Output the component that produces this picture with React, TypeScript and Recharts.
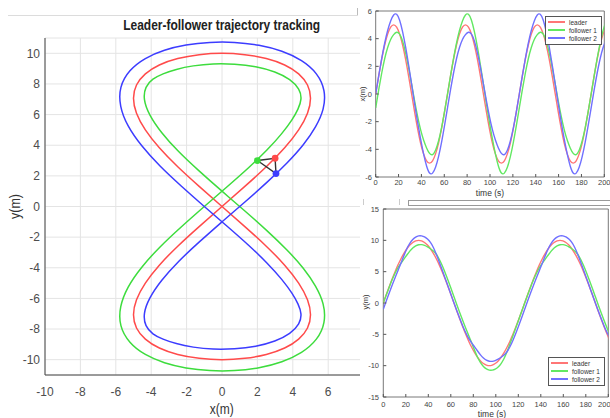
import React from "react";
import {
  ComposedChart,
  LineChart,
  Line,
  Scatter,
  XAxis,
  YAxis,
  CartesianGrid,
  Legend,
  ReferenceArea,
} from "recharts";

const FONT = "'Liberation Sans', Arial, Helvetica, sans-serif";

// sample times (s)
const time = [
  0, 2.62, 5.24, 7.85, 10.47, 13.09, 15.71, 18.33, 20.94, 23.56,
  26.18, 28.8, 31.42, 34.03, 36.65, 39.27, 41.89, 44.51, 47.12, 49.74,
  52.36, 54.98, 57.6, 60.21, 62.83, 65.45, 68.07, 70.69, 73.3, 75.92,
  78.54, 81.16, 83.78, 86.39, 89.01, 91.63, 94.25, 96.87, 99.48, 102.1,
  104.72, 107.34, 109.96, 112.57, 115.19, 117.81, 120.43, 123.05, 125.66, 128.28,
  130.9, 133.52, 136.14, 138.75, 141.37, 143.99, 146.61, 149.23, 151.84, 154.46,
  157.08, 159.7, 162.32, 164.93, 167.55, 170.17, 172.79, 175.41, 178.02, 180.64,
  183.26, 185.88, 188.5, 191.11, 193.73, 196.35, 198.97, 201.59,
];

const leaderX = [
  0, 1.29, 2.5, 3.54, 4.33, 4.83, 5, 4.83, 4.33, 3.54, 2.5, 1.29,
  0, -1.29, -2.5, -3.54, -4.33, -4.83, -5, -4.83, -4.33, -3.54, -2.5, -1.29,
  0, 1.29, 2.5, 3.54, 4.33, 4.83, 5, 4.83, 4.33, 3.54, 2.5, 1.29,
  0, -1.29, -2.5, -3.54, -4.33, -4.83, -5, -4.83, -4.33, -3.54, -2.5, -1.29,
  0, 1.29, 2.5, 3.54, 4.33, 4.83, 5, 4.83, 4.33, 3.54, 2.5, 1.29,
  0, -1.29, -2.5, -3.54, -4.33, -4.83, -5, -4.83, -4.33, -3.54, -2.5, -1.29,
  0, 1.29, 2.5, 3.54, 4.33, 4.83,
];

const leaderY = [
  0, 1.31, 2.59, 3.83, 5, 6.09, 7.07, 7.93, 8.66, 9.24, 9.66, 9.91,
  10, 9.91, 9.66, 9.24, 8.66, 7.93, 7.07, 6.09, 5, 3.83, 2.59, 1.31,
  0, -1.31, -2.59, -3.83, -5, -6.09, -7.07, -7.93, -8.66, -9.24, -9.66, -9.91,
  -10, -9.91, -9.66, -9.24, -8.66, -7.93, -7.07, -6.09, -5, -3.83, -2.59, -1.31,
  0, 1.31, 2.59, 3.83, 5, 6.09, 7.07, 7.93, 8.66, 9.24, 9.66, 9.91,
  10, 9.91, 9.66, 9.24, 8.66, 7.93, 7.07, 6.09, 5, 3.83, 2.59, 1.31,
  0, -1.31, -2.59, -3.83, -5, -6.09,
];

const follower1X = [
  -1, 0.29, 1.5, 2.55, 3.36, 3.94, 4.29, 4.46, 4.33, 3.82, 2.98, 1.9,
  0.71, -0.5, -1.62, -2.58, -3.33, -3.9, -4.29, -4.38, -4.07, -3.4, -2.45, -1.28,
  0, 1.31, 2.55, 3.67, 4.59, 5.28, 5.71, 5.76, 5.33, 4.49, 3.38, 2.09,
  0.71, -0.69, -2.03, -3.25, -4.33, -5.2, -5.71, -5.72, -5.3, -4.53, -3.5, -2.29,
  -1, 0.29, 1.5, 2.55, 3.36, 3.94, 4.29, 4.46, 4.33, 3.82, 2.98, 1.9,
  0.71, -0.5, -1.62, -2.58, -3.33, -3.9, -4.29, -4.38, -4.07, -3.4, -2.45, -1.28,
  0, 1.31, 2.55, 3.67, 4.59, 5.28,
];

const follower1Y = [
  0, 1.29, 2.53, 3.7, 4.74, 5.64, 6.36, 7.01, 7.66, 8.28, 8.78, 9.12,
  9.29, 9.31, 9.18, 8.95, 8.66, 8.31, 7.78, 6.98, 5.97, 4.82, 3.59, 2.31,
  1, -0.31, -1.59, -2.84, -4.03, -5.2, -6.36, -7.56, -8.66, -9.52, -10.13, -10.52,
  -10.71, -10.71, -10.54, -10.2, -9.66, -8.86, -7.78, -6.54, -5.26, -3.96, -2.64, -1.32,
  0, 1.29, 2.53, 3.7, 4.74, 5.64, 6.36, 7.01, 7.66, 8.28, 8.78, 9.12,
  9.29, 9.31, 9.18, 8.95, 8.66, 8.31, 7.78, 6.98, 5.97, 4.82, 3.59, 2.31,
  1, -0.31, -1.59, -2.84, -4.03, -5.2,
];

const follower2X = [
  0, 1.31, 2.55, 3.67, 4.59, 5.28, 5.71, 5.76, 5.33, 4.49, 3.38, 2.09,
  0.71, -0.69, -2.03, -3.25, -4.33, -5.2, -5.71, -5.72, -5.3, -4.53, -3.5, -2.29,
  -1, 0.29, 1.5, 2.55, 3.36, 3.94, 4.29, 4.46, 4.33, 3.82, 2.98, 1.9,
  0.71, -0.5, -1.62, -2.58, -3.33, -3.9, -4.29, -4.38, -4.07, -3.4, -2.45, -1.28,
  0, 1.31, 2.55, 3.67, 4.59, 5.28, 5.71, 5.76, 5.33, 4.49, 3.38, 2.09,
  0.71, -0.69, -2.03, -3.25, -4.33, -5.2, -5.71, -5.72, -5.3, -4.53, -3.5, -2.29,
  -1, 0.29, 1.5, 2.55, 3.36, 3.94,
];

const follower2Y = [
  -1, 0.31, 1.59, 2.84, 4.03, 5.2, 6.36, 7.56, 8.66, 9.52, 10.13, 10.52,
  10.71, 10.71, 10.54, 10.2, 9.66, 8.86, 7.78, 6.54, 5.26, 3.96, 2.64, 1.32,
  0, -1.29, -2.53, -3.7, -4.74, -5.64, -6.36, -7.01, -7.66, -8.28, -8.78, -9.12,
  -9.29, -9.31, -9.18, -8.95, -8.66, -8.31, -7.78, -6.98, -5.97, -4.82, -3.59, -2.31,
  -1, 0.31, 1.59, 2.84, 4.03, 5.2, 6.36, 7.56, 8.66, 9.52, 10.13, 10.52,
  10.71, 10.71, 10.54, 10.2, 9.66, 8.86, 7.78, 6.54, 5.26, 3.96, 2.64, 1.32,
  0, -1.29, -2.53, -3.7, -4.74, -5.64,
];

// snapshot of the formation: leader, follower 1, follower 2
const markerX = [3.0, 2.0, 3.05];
const markerY = [3.15, 3.0, 2.15];

const names = ["leader", "follower 1", "follower 2"];
const trajColors = ["#ff4a4a", "#3ddc3d", "#3c3cff"];
const timeColors = ["#ff7676", "#62e862", "#7070ff"];

const trajXTicks = [-10, -8, -6, -4, -2, 0, 2, 4, 6];
const trajYTicks = [-10, -8, -6, -4, -2, 0, 2, 4, 6, 8, 10];
const timeTicks = [0, 20, 40, 60, 80, 100, 120, 140, 160, 180, 200];
const xPlotTicks = [-6, -4, -2, 0, 2, 4, 6];
const yPlotTicks = [-15, -10, -5, 0, 5, 10, 15];

const LOOP_END = 48; // one full figure-eight

const series = [
  { xs: leaderX, ys: leaderY },
  { xs: follower1X, ys: follower1Y },
  { xs: follower2X, ys: follower2Y },
];

const trajData = series.map((s) =>
  s.xs.slice(0, LOOP_END + 1).map((x, i) => ({ x, y: s.ys[i] }))
);

const timeRows = time.map((t, i) => ({
  t,
  lx: leaderX[i],
  f1x: follower1X[i],
  f2x: follower2X[i],
  ly: leaderY[i],
  f1y: follower1Y[i],
  f2y: follower2Y[i],
}));

const markers = markerX.map((x, i) => ({ x, y: markerY[i], color: trajColors[i] }));
const triangle = [1, 0, 2, 1].map((i) => ({ x: markerX[i], y: markerY[i] }));

const smallTick = { fontSize: 7.5, fill: "#444", fontFamily: FONT };

// keeps the plotting order (recharts sorts legend items by name otherwise)
const MatlabLegend = () => (
  <div
    style={{
      border: "1px solid #555",
      background: "#fff",
      padding: "1px 4px 1px 2px",
      fontFamily: FONT,
      fontSize: 6.5,
      color: "#333",
      whiteSpace: "nowrap",
    }}
  >
    {names.map((n, i) => (
      <div key={n} style={{ display: "flex", alignItems: "center", height: 8.2 }}>
        <span
          style={{ display: "inline-block", width: 17, height: 2, background: timeColors[i], marginRight: 4 }}
        />
        <span>{n}</span>
      </div>
    ))}
  </div>
);

export default function App() {
  return (
    <div
      style={{
        position: "absolute",
        left: 0,
        top: 0,
        width: 610,
        height: 418,
        background: "#fff",
        overflow: "hidden",
      }}
    >
      {/* trajectory, cropped on the right like the source */}
      <div style={{ position: "absolute", left: 0, top: 0, width: 360, height: 418, overflow: "hidden" }}>
        <ComposedChart width={405} height={418} margin={{ top: 38, right: 6, bottom: 0, left: 0 }}>
          <CartesianGrid stroke="#e4e4e4" />
          <XAxis
            type="number"
            dataKey="x"
            domain={[-10, 10]}
            ticks={trajXTicks}
            height={43}
            tickLine={false}
            tickSize={0}
            tickMargin={12}
            axisLine={{ stroke: "#444" }}
            tick={{ fontSize: 12, fill: "#4d4d4d", fontFamily: FONT }}
          />
          <YAxis
            type="number"
            domain={[-11, 11]}
            ticks={trajYTicks}
            width={45}
            tickLine={false}
            tickSize={0}
            tickMargin={5}
            axisLine={{ stroke: "#444" }}
            tick={{ fontSize: 12, fill: "#4d4d4d", fontFamily: FONT }}
          />
          {trajData.map((d, i) => (
            <Line
              key={names[i]}
              data={d}
              dataKey="y"
              type="natural"
              stroke={trajColors[i]}
              strokeWidth={1.5}
              dot={false}
              isAnimationActive={false}
            />
          ))}
          <Line
            data={triangle}
            dataKey="y"
            type="linear"
            stroke="#333"
            strokeWidth={1.4}
            dot={false}
            isAnimationActive={false}
          />
          <Scatter
            data={markers}
            dataKey="y"
            isAnimationActive={false}
            shape={(p: any) => (
              <circle cx={p.cx} cy={p.cy} r={3.4} fill={p.payload?.color ?? p.color} />
            )}
          />
        </ComposedChart>
      </div>

      {/* x(t) */}
      <div style={{ position: "absolute", left: 360, top: 0 }}>
        <LineChart width={250} height={200} data={timeRows} margin={{ top: 11, right: 5.7, bottom: 0, left: 0 }}>
          <XAxis
            type="number"
            dataKey="t"
            domain={[0, 200]}
            allowDataOverflow
            ticks={timeTicks}
            height={23}
            axisLine={false}
            tickSize={-3}
            tickLine={{ stroke: "#555" }}
            tickMargin={5.5}
            tick={smallTick}
          />
          <YAxis
            type="number"
            domain={[-6, 6]}
            ticks={xPlotTicks}
            width={15.7}
            axisLine={false}
            tickSize={-3}
            tickLine={{ stroke: "#555" }}
            tickMargin={6.7}
            tick={smallTick}
          />
          <ReferenceArea x1={0} x2={200} y1={-6} y2={6} fill="none" stroke="#555" strokeWidth={0.8} />
          <Line dataKey="lx" name={names[0]} type="natural" stroke={timeColors[0]} strokeWidth={1.4} dot={false} isAnimationActive={false} />
          <Line dataKey="f1x" name={names[1]} type="natural" stroke={timeColors[1]} strokeWidth={1.4} dot={false} isAnimationActive={false} />
          <Line dataKey="f2x" name={names[2]} type="natural" stroke={timeColors[2]} strokeWidth={1.4} dot={false} isAnimationActive={false} />
          <Legend
            layout="vertical"
            align="center"
            verticalAlign="middle"
            content={MatlabLegend}
            wrapperStyle={{ left: 185, top: 16, width: "auto" }}
          />
        </LineChart>
      </div>

      {/* y(t) */}
      <div style={{ position: "absolute", left: 360, top: 200 }}>
        <LineChart width={250} height={218} data={timeRows} margin={{ top: 9, right: 1.7, bottom: 0, left: 0 }}>
          <XAxis
            type="number"
            dataKey="t"
            domain={[0, 200]}
            allowDataOverflow
            ticks={timeTicks}
            height={21}
            axisLine={false}
            tickSize={-3}
            tickLine={{ stroke: "#555" }}
            tickMargin={7.8}
            tick={smallTick}
          />
          <YAxis
            type="number"
            domain={[-15, 15]}
            ticks={yPlotTicks}
            width={23.3}
            axisLine={false}
            tickSize={-3}
            tickLine={{ stroke: "#555" }}
            tickMargin={7.3}
            tick={smallTick}
          />
          <ReferenceArea x1={0} x2={200} y1={-15} y2={15} fill="none" stroke="#555" strokeWidth={0.8} />
          <Line dataKey="ly" name={names[0]} type="natural" stroke={timeColors[0]} strokeWidth={1.4} dot={false} isAnimationActive={false} />
          <Line dataKey="f1y" name={names[1]} type="natural" stroke={timeColors[1]} strokeWidth={1.4} dot={false} isAnimationActive={false} />
          <Line dataKey="f2y" name={names[2]} type="natural" stroke={timeColors[2]} strokeWidth={1.4} dot={false} isAnimationActive={false} />
          <Legend
            layout="vertical"
            align="center"
            verticalAlign="middle"
            content={MatlabLegend}
            wrapperStyle={{ left: 188, top: 157, width: "auto" }}
          />
        </LineChart>
      </div>

      {/* titles, axis labels and screenshot seams */}
      <svg
        width={610}
        height={418}
        style={{ position: "absolute", left: 0, top: 0, pointerEvents: "none" }}
        fontFamily={FONT}
      >
        <line x1={8} y1={15.5} x2={357} y2={15.5} stroke="#dcdcdc" />
        <line x1={357.5} y1={8} x2={357.5} y2={15.5} stroke="#bbb" />
        <rect x={408.5} y={200.5} width={205} height={5} fill="none" stroke="#999" />
        <line x1={363.5} y1={199} x2={363.5} y2={205} stroke="#ccc" />
        <line x1={399.5} y1={199} x2={399.5} y2={205} stroke="#ccc" />
        <text
          x={221.7}
          y={30}
          textAnchor="middle"
          fontSize={14.5}
          fontWeight="bold"
          fill="#222"
          textLength={197}
          lengthAdjust="spacingAndGlyphs"
        >
          Leader-follower trajectory tracking
        </text>
        <text
          x={221.7}
          y={414}
          textAnchor="middle"
          fontSize={14.5}
          fill="#333"
          textLength={24}
          lengthAdjust="spacingAndGlyphs"
        >
          x(m)
        </text>
        <text
          transform="translate(20,206.5) rotate(-90)"
          textAnchor="middle"
          fontSize={14.5}
          fill="#333"
          textLength={25}
          lengthAdjust="spacingAndGlyphs"
        >
          y(m)
        </text>
        <text transform="translate(365,94) rotate(-90)" textAnchor="middle" fontSize={7.5} fill="#333">
          x(m)
        </text>
        <text x={490} y={196} textAnchor="middle" fontSize={8.5} fill="#333">
          time (s)
        </text>
        <text transform="translate(368,302) rotate(-90)" textAnchor="middle" fontSize={7.5} fill="#333">
          y(m)
        </text>
        <text x={492} y={417} textAnchor="middle" fontSize={8.5} fill="#333">
          time (s)
        </text>
      </svg>
    </div>
  );
}
